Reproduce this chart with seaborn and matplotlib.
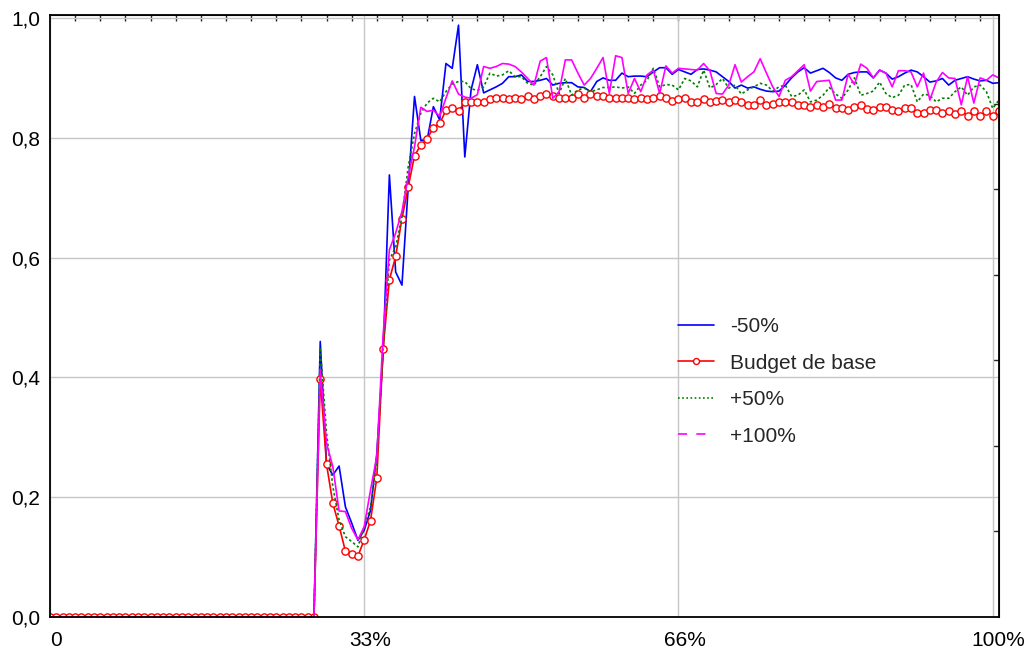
import matplotlib
matplotlib.use("Agg")
import matplotlib.pyplot as plt
import matplotlib.transforms as mtransforms
from matplotlib.lines import Line2D
import pandas as pd
import seaborn as sns

# Simulation steps (0 .. 151) and the flat stretch before the response starts
steps = list(range(152))
flat_start = [0.0, 0.0, 0.0, 0.0, 0.0, 0.0, 0.0, 0.0, 0.0, 0.0,
              0.0, 0.0, 0.0, 0.0, 0.0, 0.0, 0.0, 0.0, 0.0, 0.0,
              0.0, 0.0, 0.0, 0.0, 0.0, 0.0, 0.0, 0.0, 0.0, 0.0,
              0.0, 0.0, 0.0, 0.0, 0.0, 0.0, 0.0, 0.0, 0.0, 0.0,
              0.0, 0.0, 0.0]

minus50 = flat_start + [
    0.460, 0.255, 0.237, 0.252, 0.184, 0.157, 0.128, 0.145, 0.178, 0.273,
    0.440, 0.738, 0.576, 0.554, 0.718, 0.869, 0.796, 0.796, 0.852, 0.830,
    0.924, 0.916, 0.988, 0.768, 0.880, 0.922, 0.875, 0.880, 0.885, 0.891,
    0.902, 0.902, 0.905, 0.894, 0.894, 0.896, 0.899, 0.888, 0.891, 0.892,
    0.892, 0.885, 0.884, 0.877, 0.894, 0.900, 0.896, 0.896, 0.908, 0.902,
    0.903, 0.903, 0.902, 0.910, 0.917, 0.917, 0.906, 0.914, 0.910, 0.906,
    0.914, 0.915, 0.913, 0.910, 0.902, 0.894, 0.883, 0.888, 0.883, 0.885,
    0.881, 0.878, 0.877, 0.878, 0.888, 0.900, 0.910, 0.917, 0.908, 0.912,
    0.916, 0.909, 0.900, 0.896, 0.906, 0.909, 0.910, 0.910, 0.900, 0.913,
    0.908, 0.898, 0.902, 0.908, 0.913, 0.910, 0.902, 0.893, 0.895, 0.899,
    0.888, 0.896, 0.899, 0.902, 0.898, 0.895, 0.896, 0.891, 0.892]

base = flat_start + [
    0.398, 0.255, 0.190, 0.152, 0.110, 0.105, 0.102, 0.129, 0.161, 0.232,
    0.447, 0.563, 0.602, 0.665, 0.718, 0.770, 0.788, 0.798, 0.817, 0.824,
    0.846, 0.849, 0.844, 0.860, 0.859, 0.859, 0.860, 0.865, 0.866, 0.867,
    0.865, 0.867, 0.864, 0.870, 0.865, 0.869, 0.873, 0.870, 0.867, 0.867,
    0.867, 0.873, 0.867, 0.873, 0.870, 0.870, 0.867, 0.867, 0.867, 0.867,
    0.864, 0.867, 0.865, 0.867, 0.869, 0.867, 0.861, 0.864, 0.867, 0.859,
    0.859, 0.864, 0.859, 0.862, 0.863, 0.859, 0.863, 0.859, 0.855, 0.855,
    0.863, 0.854, 0.857, 0.860, 0.859, 0.859, 0.855, 0.855, 0.852, 0.854,
    0.852, 0.856, 0.850, 0.850, 0.846, 0.852, 0.855, 0.848, 0.846, 0.852,
    0.852, 0.846, 0.845, 0.849, 0.849, 0.841, 0.841, 0.846, 0.846, 0.841,
    0.845, 0.839, 0.845, 0.837, 0.845, 0.837, 0.845, 0.837, 0.845]

plus50 = flat_start + [
    0.450, 0.307, 0.218, 0.162, 0.134, 0.126, 0.117, 0.151, 0.184, 0.262,
    0.450, 0.596, 0.618, 0.668, 0.752, 0.807, 0.841, 0.858, 0.866, 0.860,
    0.877, 0.890, 0.894, 0.894, 0.882, 0.879, 0.885, 0.908, 0.903, 0.905,
    0.912, 0.902, 0.902, 0.891, 0.888, 0.902, 0.919, 0.905, 0.874, 0.899,
    0.871, 0.880, 0.883, 0.877, 0.880, 0.884, 0.884, 0.885, 0.883, 0.885,
    0.874, 0.888, 0.896, 0.916, 0.885, 0.889, 0.888, 0.880, 0.899, 0.895,
    0.885, 0.913, 0.883, 0.889, 0.899, 0.883, 0.888, 0.873, 0.880, 0.885,
    0.891, 0.888, 0.878, 0.885, 0.888, 0.869, 0.871, 0.880, 0.860, 0.863,
    0.871, 0.884, 0.873, 0.866, 0.880, 0.900, 0.871, 0.874, 0.878, 0.893,
    0.874, 0.867, 0.871, 0.888, 0.889, 0.860, 0.873, 0.871, 0.860, 0.866,
    0.866, 0.877, 0.885, 0.871, 0.885, 0.888, 0.877, 0.849, 0.863]

plus100 = flat_start + [
    0.412, 0.290, 0.251, 0.177, 0.176, 0.148, 0.129, 0.151, 0.212, 0.268,
    0.470, 0.613, 0.641, 0.677, 0.735, 0.785, 0.851, 0.844, 0.846, 0.836,
    0.866, 0.895, 0.873, 0.868, 0.866, 0.872, 0.919, 0.916, 0.919, 0.924,
    0.923, 0.919, 0.910, 0.899, 0.888, 0.928, 0.934, 0.866, 0.877, 0.930,
    0.930, 0.908, 0.888, 0.899, 0.916, 0.934, 0.874, 0.937, 0.934, 0.874,
    0.899, 0.877, 0.905, 0.913, 0.874, 0.920, 0.908, 0.916, 0.915, 0.914,
    0.913, 0.924, 0.912, 0.874, 0.873, 0.888, 0.922, 0.893, 0.902, 0.910,
    0.932, 0.908, 0.885, 0.869, 0.896, 0.902, 0.912, 0.922, 0.878, 0.894,
    0.895, 0.896, 0.863, 0.863, 0.906, 0.889, 0.923, 0.916, 0.900, 0.913,
    0.908, 0.885, 0.912, 0.912, 0.910, 0.885, 0.908, 0.863, 0.893, 0.909,
    0.900, 0.899, 0.855, 0.902, 0.858, 0.900, 0.896, 0.905, 0.900]

series_labels = ["-50%", "Budget de base", "+50%", "+100%"]
x_tick_values = [0, 50, 100, 150]
x_tick_labels = ["0", "33%", "66%", "100%"]
y_tick_values = [0.0, 0.2, 0.4, 0.6, 0.8, 1.0]
y_tick_labels = ["0,0", "0,2", "0,4", "0,6", "0,8", "1,0"]

sns.set_style("white")
plt.rcParams["font.family"] = ["Liberation Sans", "DejaVu Sans"]

fig = plt.figure(figsize=(10.30, 6.57), dpi=100)
ax = fig.add_axes([50 / 1030, 40 / 657, 949 / 1030, 602 / 657])

BLUE, RED, GREEN, MAGENTA = "#0000ff", "#ff0000", "#008000", "#ff00ff"

df = pd.DataFrame({"step": steps, "m50": minus50, "base": base,
                   "p50": plus50, "p100": plus100})

sns.lineplot(data=df, x="step", y="m50", ax=ax, color=BLUE, linewidth=1.2,
             errorbar=None, legend=False)
sns.lineplot(data=df, x="step", y="base", ax=ax, color=RED, linewidth=1.2,
             marker="o", markersize=5.2, markerfacecolor="white",
             markeredgecolor=RED, markeredgewidth=1.0,
             errorbar=None, legend=False)
sns.lineplot(data=df, x="step", y="p50", ax=ax, color=GREEN, linewidth=1.2,
             linestyle=(0, (1.5, 1.5)), errorbar=None, legend=False)
sns.lineplot(data=df, x="step", y="p100", ax=ax, color=MAGENTA, linewidth=1.2,
             errorbar=None, legend=False)

ax.set_xlim(0, 151)
ax.set_ylim(0, 1.005)
ax.set_xlabel("")
ax.set_ylabel("")

ax.set_xticks(x_tick_values)
ax.set_xticklabels(x_tick_labels)
ax.set_yticks(y_tick_values)
ax.set_yticklabels(y_tick_labels)

ax.grid(True, color="#c6c6c6", linewidth=1.0)
ax.set_axisbelow(True)
for side in ["left", "right", "top", "bottom"]:
    ax.spines[side].set_visible(True)
    ax.spines[side].set_color("black")
    ax.spines[side].set_linewidth(1.3)

ax.tick_params(axis="both", direction="in", length=5, width=1.0,
               colors="black", labelsize=15)
ax.tick_params(axis="x", pad=10)
ax.tick_params(axis="y", pad=7)

# shift x labels slightly right of their ticks
shift = mtransforms.ScaledTranslation(0.06, 0, fig.dpi_scale_trans)
for lbl in ax.get_xticklabels():
    lbl.set_transform(lbl.get_transform() + shift)

# minor scales on the top and right frame edges
top = ax.secondary_xaxis("top")
top.set_xticks(list(range(4, 151, 4)))
top.set_xticklabels([])
top.tick_params(direction="in", length=4, width=1.0)
right = ax.secondary_yaxis("right")
right.set_yticks([1 / 7, 2 / 7, 3 / 7, 4 / 7, 5 / 7, 6 / 7])
right.set_yticklabels([])
right.tick_params(direction="in", length=4, width=1.0)

handles = [
    Line2D([], [], color=BLUE, linewidth=1.2),
    Line2D([], [], color=RED, linewidth=1.2, marker="o", markersize=4.3,
           markerfacecolor="white", markeredgecolor=RED, markeredgewidth=1.0),
    Line2D([], [], color=GREEN, linewidth=1.2, linestyle=(0, (1, 1.5))),
    Line2D([], [], color=MAGENTA, linewidth=1.2, linestyle=(0, (5.5, 5.5))),
]
ax.legend(handles, series_labels, loc="upper left",
          bbox_to_anchor=(0.662, 0.498), frameon=False, fontsize=15,
          handlelength=1.73, handletextpad=0.75, labelspacing=0.84,
          borderpad=0, borderaxespad=0)

fig.savefig("out.png", dpi=100)
